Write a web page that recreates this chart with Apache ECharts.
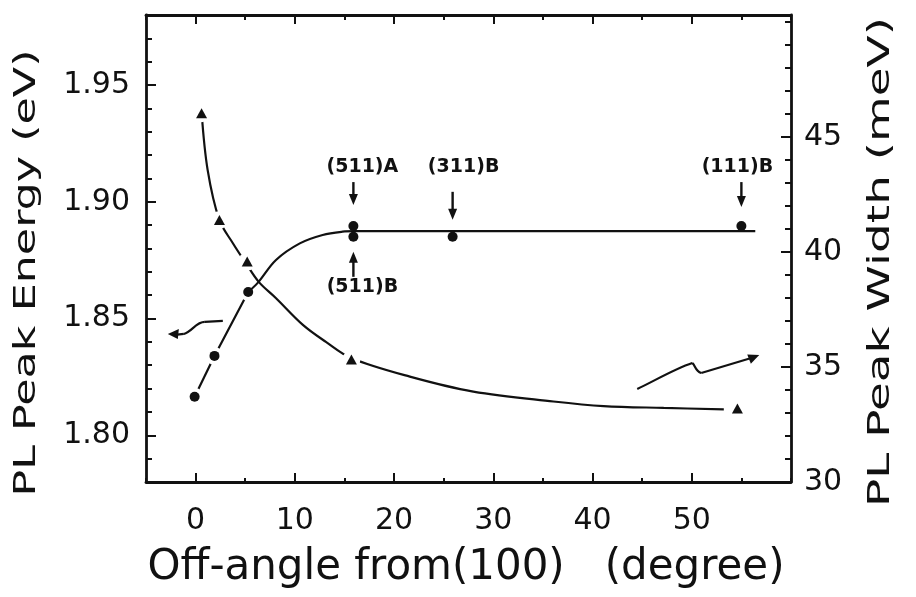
<!DOCTYPE html>
<html>
<head>
<meta charset="utf-8">
<script src="https://cdn.jsdelivr.net/npm/echarts@6/dist/echarts.min.js"></script>
<style>
  html, body { margin: 0; padding: 0; background: #ffffff; }
  #chart { width: 916px; height: 597px; }
</style>
</head>
<body>
<div id="chart"></div>
<script>
// Off-angle from (100) in degrees, PL peak energy in eV (left axis)
const energyAngle = [-0.1, 1.9, 5.3];
const energyValue = [1.8165, 1.834, 1.8614];
// Orientation-labelled samples on the plateau
const orientationLabels = ['(511)A', '(511)B', '(311)B', '(111)B'];
const orientationAngle = [15.9, 15.9, 25.9, 55.0];
const orientationEnergy = [1.8896, 1.885, 1.885, 1.8896];
// Guide curve through the energy points
const energyFitAngle = [5.3, 6.3, 8.1, 10.5, 12.8, 14.8, 16.0, 56.4];
const energyFitValue = [1.8614, 1.8655, 1.8751, 1.8822, 1.8858, 1.8872, 1.8874, 1.8874];

// PL peak width in meV (right axis)
const widthAngle = [0.6, 2.4, 5.2, 15.7, 54.6];
const widthValue = [46.03, 41.39, 39.58, 35.33, 33.2];
// Guide curve through the width points
const widthFitAngle = [0.61, 1.21, 2.39, 3.74, 5.05, 6.36, 8.08, 10.81, 13.13, 15.66, 21.59, 27.98, 36.06, 41.11, 47.17, 53.23];
const widthFitValue = [46.04, 43.57, 41.39, 40.39, 39.52, 38.7, 38.0, 36.83, 36.09, 35.39, 34.58, 33.93, 33.5, 33.3, 33.22, 33.16];

// Tick labels
const angleTicks = [0, 10, 20, 30, 40, 50];
const energyTicks = [1.80, 1.85, 1.90, 1.95];
const widthTicks = [30, 35, 40, 45];

const FONT = 'DejaVu Sans';
const INK = '#111111';
const pairs = (xs, ys) => xs.map((x, i) => [x, ys[i]]);

const chart = echarts.init(document.getElementById('chart'), null, { renderer: 'canvas' });

const frameLine = { show: true, onZero: false, lineStyle: { color: INK, width: 2.8 } };
const noLine = { show: false, onZero: false };
const tickStyle = { color: INK, width: 2 };
const labelStyle = { color: INK, fontFamily: FONT, fontSize: 30 };

function ticksOf(length, values) {
  const t = { show: true, inside: true, length, lineStyle: tickStyle };
  if (values) t.customValues = values;
  return t;
}

function angleAxis(position, withLine, ticks, length, labels) {
  return {
    type: 'value', position, min: -5, max: 60, interval: 5,
    axisLine: withLine ? frameLine : noLine,
    axisTick: ticksOf(length, ticks),
    axisLabel: labels ? Object.assign({ customValues: labels, margin: 24 }, labelStyle) : { show: false },
    splitLine: { show: false }
  };
}
function energyAxis(withLine, ticks, length, labels) {
  return {
    type: 'value', position: 'left', min: 1.78, max: 1.98, interval: 0.01,
    axisLine: withLine ? frameLine : noLine,
    axisTick: ticksOf(length, ticks),
    axisLabel: labels ? Object.assign({ customValues: labels, margin: 16, formatter: v => v.toFixed(2) }, labelStyle) : { show: false },
    splitLine: { show: false }
  };
}
function widthAxis(withLine, ticks, length, labels) {
  return {
    type: 'value', position: 'right', min: 30, max: 50.3, interval: 1,
    axisLine: withLine ? frameLine : noLine,
    axisTick: ticksOf(length, ticks),
    axisLabel: labels ? Object.assign({ customValues: labels, margin: 13, formatter: v => String(v) }, labelStyle) : { show: false },
    splitLine: { show: false }
  };
}

const markerMask = { color: '#ffffff', opacity: 1 };

chart.setOption({
  animation: false,
  backgroundColor: '#ffffff',
  grid: { left: 146, right: 125, top: 15, bottom: 115, containLabel: false },
  xAxis: [
    angleAxis('bottom', true, null, 4, angleTicks),
    angleAxis('bottom', false, angleTicks, 9, null),
    angleAxis('top', true, null, 5, null),
    angleAxis('top', false, angleTicks, 9, null)
  ],
  yAxis: [
    energyAxis(true, null, 6, energyTicks),
    energyAxis(false, energyTicks, 10, null),
    widthAxis(true, null, 6, widthTicks),
    widthAxis(false, widthTicks, 10, null)
  ],
  series: [
    {
      // straight segments joining the low-angle energy points
      type: 'line', xAxisIndex: 0, yAxisIndex: 0, z: 1,
      data: pairs(energyAngle, energyValue),
      symbol: 'none', lineStyle: { color: INK, width: 2.2 }
    },
    {
      type: 'line', xAxisIndex: 0, yAxisIndex: 2, z: 1,
      data: pairs(widthFitAngle, widthFitValue),
      symbol: 'none', smooth: 0.35,
      lineStyle: { color: INK, width: 2.2 }
    },
    {
      // open gaps in the lines around each marker
      type: 'scatter', xAxisIndex: 0, yAxisIndex: 0, z: 2,
      data: pairs(energyAngle, energyValue),
      symbol: 'circle', symbolSize: 18, itemStyle: markerMask, silent: true
    },
    {
      type: 'scatter', xAxisIndex: 0, yAxisIndex: 2, z: 2,
      data: pairs(widthAngle, widthValue),
      symbol: 'circle', symbolSize: 18, itemStyle: markerMask, silent: true
    },
    {
      type: 'line', xAxisIndex: 0, yAxisIndex: 0, z: 3,
      data: pairs(energyFitAngle, energyFitValue),
      symbol: 'none', smooth: 0.35,
      lineStyle: { color: INK, width: 2.2 }
    },
    {
      type: 'scatter', xAxisIndex: 0, yAxisIndex: 0, z: 4,
      data: pairs(energyAngle.concat(orientationAngle), energyValue.concat(orientationEnergy)),
      symbol: 'circle', symbolSize: 10, itemStyle: { color: INK, opacity: 1 }
    },
    {
      type: 'scatter', xAxisIndex: 0, yAxisIndex: 2, z: 4,
      data: pairs(widthAngle, widthValue),
      symbol: 'triangle', symbolSize: [11, 10], itemStyle: { color: INK, opacity: 1 }
    }
  ]
});

// text widths, for stretching titles to their drawn length
const measureCtx = document.createElement('canvas').getContext('2d');
function naturalWidth(text, font) { measureCtx.font = font; return measureCtx.measureText(text).width; }

const stroke = { stroke: INK, lineWidth: 2.2, fill: null };

function arrow(x, y0, y1) {
  // vertical arrow from y0 to its tip at y1
  const dir = y1 > y0 ? 1 : -1;
  return [
    { type: 'line', shape: { x1: x, y1: y0, x2: x, y2: y1 - dir * 8 }, style: { stroke: INK, lineWidth: 2.4 }, z: 10 },
    { type: 'polygon', shape: { points: [[x, y1], [x - 4.5, y1 - dir * 11], [x + 4.5, y1 - dir * 11]] }, style: { fill: INK }, z: 10 }
  ];
}

function titleText(text, x, y, size, length, rotation, scaleY) {
  const font = size + 'px "' + FONT + '"';
  return {
    type: 'text', x, y, rotation, scaleX: length / naturalWidth(text, font), scaleY: scaleY || 1, z: 10,
    style: { text, font, fill: INK, align: 'center', verticalAlign: 'middle' }
  };
}

const elements = [];
// annotation placement relative to each labelled point: arrow start, arrow tip, label offsets (px)
const annotationLayout = [
  { from: -44, to: -21, dx: 9, dy: -59 },
  { from: 40, to: 15, dx: 9, dy: 50 },
  { from: -45, to: -17, dx: 11, dy: -70 },
  { from: -44, to: -19, dx: -4, dy: -59 }
];
orientationLabels.forEach((label, i) => {
  const p = chart.convertToPixel({ xAxisIndex: 0, yAxisIndex: 0 }, [orientationAngle[i], orientationEnergy[i]]);
  const a = annotationLayout[i];
  elements.push(...arrow(p[0], p[1] + a.from, p[1] + a.to));
  elements.push({
    type: 'text', x: p[0] + a.dx, y: p[1] + a.dy, z: 10,
    style: { text: label, font: 'bold 19px "' + FONT + '"', fill: INK, align: 'center', verticalAlign: 'middle' }
  });
});

// curved pointers telling which curve belongs to which axis
const leftTip = chart.convertToPixel({ xAxisIndex: 0, yAxisIndex: 0 }, [-2.8, 1.8434]);
elements.push({
  type: 'group', x: leftTip[0], y: leftTip[1], z: 10,
  children: [
    { type: 'line', shape: { x1: 55, y1: -13, x2: 37, y2: -12 }, style: stroke },
    { type: 'bezierCurve', shape: { x1: 37, y1: -12, cpx1: 28, cpy1: -12, cpx2: 24, cpy2: -2, x2: 16, y2: 0 }, style: stroke },
    { type: 'line', shape: { x1: 16, y1: 0, x2: 7, y2: 1 }, style: stroke },
    { type: 'polygon', shape: { points: [[0, 0], [11, -5], [10, 5]] }, style: { fill: INK } }
  ]
});
const rightTip = chart.convertToPixel({ xAxisIndex: 0, yAxisIndex: 2 }, [56.8, 35.52]);
elements.push({
  type: 'group', x: rightTip[0], y: rightTip[1], z: 10,
  children: [
    { type: 'bezierCurve', shape: { x1: -122, y1: 34, cpx1: -105, cpy1: 26, cpx2: -85, cpy2: 14, x2: -67, y2: 8 }, style: stroke },
    { type: 'bezierCurve', shape: { x1: -67, y1: 8, cpx1: -64, cpy1: 10, cpx2: -64, cpy2: 16, x2: -58, y2: 18 }, style: stroke },
    { type: 'line', shape: { x1: -58, y1: 18, x2: -8, y2: 3 }, style: stroke },
    { type: 'polygon', shape: { points: [[0, 0], [-12, -0.6], [-8.4, 8.7]] }, style: { fill: INK } }
  ]
});

// axis titles
elements.push(titleText('PL Peak Energy (eV)', 27, 273, 30, 447, Math.PI / 2));
elements.push(titleText('PL Peak Width (meV)', 881, 262, 30, 490, Math.PI / 2));
elements.push(titleText('Off-angle from(100)   (degree)', 466, 568, 32, 637, 0, 1.35));

chart.setOption({ graphic: { elements } });
</script>
</body>
</html>
